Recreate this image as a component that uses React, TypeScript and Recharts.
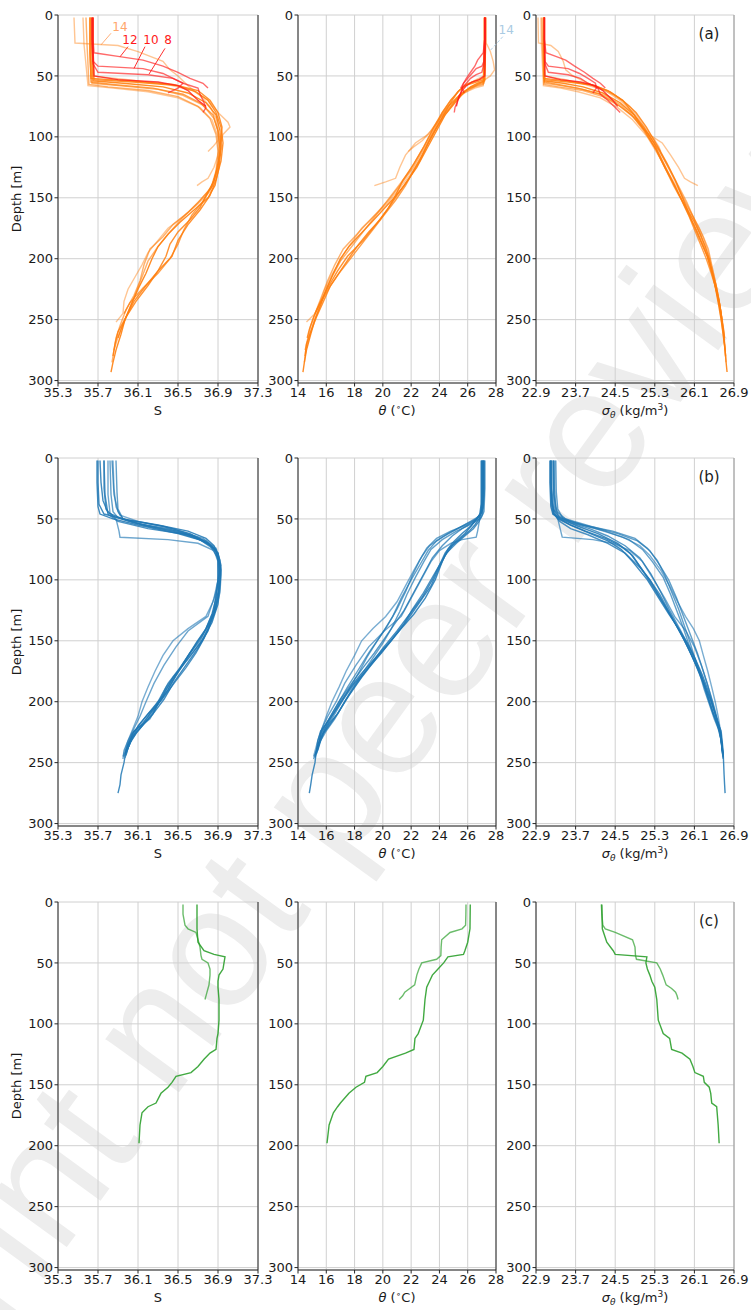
import React from "react";
import {
  ScatterChart,
  Scatter,
  XAxis,
  YAxis,
  CartesianGrid,
  ReferenceLine,
  ReferenceDot,
} from "recharts";

// ---------- axis ticks ----------
const depthTicks = [0, 50, 100, 150, 200, 250, 300];
const salTicks = [35.3, 35.7, 36.1, 36.5, 36.9, 37.3];
const thetaTicks = [14, 16, 18, 20, 22, 24, 26, 28];
const sigmaTicks = [22.9, 23.7, 24.5, 25.3, 26.1, 26.9];

// ---------- (a) orange profiles: depth [m], S, theta, sigma ----------
const orangeDepth = [
  [2, 30, 54, 56, 59, 64, 72, 82, 95, 110, 125, 140, 150, 160, 170, 180, 190, 200, 212, 225, 238, 250, 262, 275, 285, 293],
  [2, 30, 52, 54, 57, 62, 70, 80, 92, 108, 122, 136, 148, 158, 168, 178, 188, 198, 210, 222, 235, 248, 260, 270, 280],
  [2, 30, 56, 58, 61, 66, 74, 85, 98, 112, 126, 140, 152, 162, 172, 182, 192, 205, 218, 230, 242, 255, 265, 275],
  [2, 24, 58, 60, 63, 68, 76, 86, 100, 115, 130, 145, 155, 165, 175, 185, 195, 205, 215, 225, 235, 245, 252],
  [2, 30, 50, 53, 57, 62, 70, 80, 88, 92, 98, 105, 115, 125, 134, 137, 140],
  [2, 30, 53, 55, 58, 63, 70, 80, 92, 105, 120, 135, 148, 160, 172, 185, 198, 210, 222, 235, 248, 258, 265],
  [2, 30, 55, 57, 60, 65, 72, 82, 95, 110, 125, 140, 152, 164, 176, 188, 200, 212, 224, 236, 245],
  [2, 23, 25, 30, 38, 45, 50, 58, 66, 75, 85, 95, 103, 108, 112],
  [2, 24, 57, 59, 62, 67, 75, 85, 98, 112, 128, 142, 154, 166, 178, 190, 202, 215, 228, 240, 252, 264, 275, 285],
];
const orangeSal = [
  [35.64, 35.64, 35.65, 35.95, 36.35, 36.6, 36.78, 36.88, 36.92, 36.93, 36.91, 36.87, 36.8, 36.66, 36.52, 36.4, 36.3, 36.24, 36.18, 36.1, 36.03, 35.97, 35.93, 35.88, 35.85, 35.83],
  [35.62, 35.62, 35.63, 36.0, 36.45, 36.7, 36.82, 36.9, 36.94, 36.93, 36.9, 36.86, 36.78, 36.72, 36.62, 36.5, 36.42, 36.38, 36.3, 36.2, 36.08, 35.98, 35.9, 35.87, 35.85],
  [35.63, 35.63, 35.64, 35.9, 36.3, 36.55, 36.75, 36.86, 36.91, 36.92, 36.9, 36.85, 36.72, 36.6, 36.45, 36.35, 36.22, 36.16, 36.12, 36.06, 35.98, 35.92, 35.88, 35.86],
  [35.55, 35.56, 35.6, 35.85, 36.2, 36.5, 36.72, 36.84, 36.9, 36.91, 36.88, 36.82, 36.7, 36.56, 36.4, 36.3, 36.2, 36.14, 36.07, 36.0, 35.96, 35.95, 35.88],
  [35.62, 35.62, 35.63, 36.0, 36.4, 36.65, 36.8, 36.9, 37.0, 37.02, 36.95, 36.92, 36.9, 36.86, 36.8, 36.74, 36.69],
  [35.65, 35.65, 35.66, 36.05, 36.5, 36.68, 36.8, 36.88, 36.93, 36.95, 36.93, 36.88, 36.82, 36.72, 36.6, 36.5, 36.44, 36.3, 36.18, 36.06, 35.98, 35.93, 35.9],
  [35.62, 35.62, 35.63, 35.85, 36.25, 36.55, 36.72, 36.85, 36.9, 36.92, 36.9, 36.84, 36.76, 36.64, 36.56, 36.5, 36.42, 36.3, 36.15, 36.02, 35.96],
  [35.46, 35.47, 35.9, 36.1, 36.35, 36.42, 36.5, 36.6, 36.72, 36.82, 36.88, 36.9, 36.9, 36.85, 36.8],
  [35.58, 35.59, 35.61, 35.8, 36.2, 36.5, 36.7, 36.82, 36.88, 36.9, 36.88, 36.83, 36.7, 36.55, 36.42, 36.3, 36.2, 36.14, 36.08, 36.02, 35.96, 35.9, 35.86, 35.84],
];
const orangeTheta = [
  [27.25, 27.25, 27.2, 26.7, 26.2, 25.7, 25.1, 24.4, 23.8, 23.1, 22.4, 21.5, 20.8, 20.0, 19.2, 18.4, 17.6, 17.0, 16.5, 16.0, 15.6, 15.2, 14.9, 14.6, 14.45, 14.35],
  [27.2, 27.2, 27.15, 26.5, 25.9, 25.4, 24.8, 24.2, 23.6, 22.9, 22.2, 21.4, 20.9, 20.4, 19.8, 19.0, 18.3, 17.7, 17.0, 16.3, 15.8, 15.3, 14.9, 14.6, 14.5],
  [27.2, 27.2, 27.15, 26.6, 26.0, 25.4, 24.9, 24.2, 23.5, 22.8, 22.1, 21.2, 20.4, 19.6, 18.8, 18.0, 17.2, 16.6, 16.1, 15.7, 15.3, 14.9, 14.7, 14.5],
  [27.2, 27.2, 27.1, 26.5, 25.9, 25.2, 24.6, 24.0, 23.4, 22.8, 22.0, 21.0, 20.3, 19.4, 18.5, 17.9, 17.3, 16.8, 16.3, 15.9, 15.6, 15.2, 14.6],
  [27.2, 27.2, 27.15, 26.6, 26.0, 25.4, 24.8, 24.2, 23.9, 23.6, 23.2, 22.3, 21.6, 21.2, 20.9, 20.2, 19.4],
  [27.25, 27.25, 27.2, 26.6, 25.8, 25.3, 24.9, 24.4, 23.8, 23.2, 22.6, 21.8, 21.0, 20.3, 19.5, 18.6, 17.5, 16.8, 16.2, 15.6, 15.1, 14.8, 14.65],
  [27.2, 27.2, 27.15, 26.7, 26.1, 25.5, 25.0, 24.3, 23.7, 23.0, 22.3, 21.6, 20.9, 20.1, 19.3, 18.5, 17.7, 16.9, 16.2, 15.6, 15.2],
  [27.3, 27.3, 27.4, 27.6, 27.8, 27.9, 27.6, 26.6, 25.5, 24.6, 24.0, 23.4, 22.8, 22.2, 21.8],
  [27.15, 27.15, 27.1, 26.5, 25.8, 25.3, 24.6, 24.0, 23.4, 22.7, 21.9, 21.0, 20.2, 19.4, 18.6, 17.8, 17.0, 16.4, 15.9, 15.5, 15.1, 14.8, 14.55, 14.45],
];
const orangeSigma = [
  [23.06, 23.06, 23.07, 23.45, 23.85, 24.25, 24.6, 24.88, 25.1, 25.32, 25.5, 25.7, 25.82, 25.96, 26.1, 26.22, 26.32, 26.4, 26.47, 26.53, 26.59, 26.64, 26.68, 26.72, 26.74, 26.76],
  [23.05, 23.05, 23.06, 23.5, 24.0, 24.35, 24.65, 24.92, 25.13, 25.36, 25.55, 25.72, 25.84, 25.94, 26.04, 26.16, 26.26, 26.36, 26.45, 26.54, 26.6, 26.65, 26.69, 26.71, 26.73],
  [23.06, 23.06, 23.07, 23.4, 23.85, 24.3, 24.62, 24.9, 25.17, 25.4, 25.58, 25.76, 25.9, 26.03, 26.16, 26.28, 26.38, 26.45, 26.52, 26.58, 26.63, 26.67, 26.7, 26.72],
  [23.0, 23.01, 23.05, 23.4, 23.75, 24.2, 24.55, 24.85, 25.15, 25.37, 25.58, 25.8, 25.92, 26.06, 26.2, 26.3, 26.38, 26.44, 26.5, 26.55, 26.6, 26.64, 26.67],
  [23.06, 23.06, 23.07, 23.5, 23.9, 24.3, 24.6, 24.85, 24.98, 25.05, 25.18, 25.45, 25.62, 25.78, 25.9, 26.02, 26.17],
  [23.07, 23.07, 23.08, 23.55, 24.1, 24.4, 24.65, 24.85, 25.08, 25.28, 25.46, 25.64, 25.8, 25.94, 26.08, 26.22, 26.36, 26.44, 26.52, 26.6, 26.65, 26.69, 26.71],
  [23.06, 23.06, 23.07, 23.35, 23.75, 24.2, 24.5, 24.83, 25.08, 25.32, 25.5, 25.68, 25.84, 25.98, 26.1, 26.22, 26.34, 26.44, 26.53, 26.6, 26.64],
  [22.94, 22.95, 23.2, 23.35, 23.45, 23.5, 23.65, 24.05, 24.5, 24.8, 24.98, 25.15, 25.3, 25.38, 25.42],
  [23.02, 23.03, 23.06, 23.35, 23.85, 24.25, 24.6, 24.9, 25.17, 25.4, 25.62, 25.8, 25.95, 26.08, 26.2, 26.3, 26.4, 26.48, 26.55, 26.61, 26.65, 26.69, 26.72, 26.74],
];

// ---------- (a) red profiles (labelled 8, 10, 12) ----------
const redDepth = [
  [2, 20, 40, 47, 49, 52, 56, 60, 65, 70, 76, 80],
  [2, 20, 38, 42, 44, 48, 52, 56, 60, 64],
  [2, 20, 31, 34, 37, 42, 47, 52, 56, 60],
  [2, 25, 50, 53, 55, 58, 62, 66, 70, 75],
];
const redSal = [
  [35.64, 35.64, 35.65, 35.7, 36.2, 36.45, 36.55, 36.7, 36.72, 36.75, 36.78, 36.75],
  [35.64, 35.64, 35.65, 35.7, 36.15, 36.35, 36.45, 36.55, 36.5, 36.4],
  [35.65, 35.65, 35.66, 35.9, 36.15, 36.35, 36.5, 36.62, 36.75, 36.8],
  [35.65, 35.65, 35.66, 35.9, 36.3, 36.5, 36.6, 36.65, 36.7, 36.78],
];
const redTheta = [
  [27.2, 27.2, 27.15, 27.0, 26.6, 26.2, 25.9, 25.6, 25.5, 25.3, 25.1, 25.05],
  [27.2, 27.2, 27.15, 27.0, 26.6, 26.3, 26.0, 25.7, 25.6, 25.75],
  [27.2, 27.2, 27.1, 26.9, 26.7, 26.5, 26.2, 25.9, 25.7, 25.5],
  [27.25, 27.25, 27.2, 26.8, 26.3, 25.9, 25.6, 25.4, 25.3, 25.2],
];
const redSigma = [
  [23.07, 23.07, 23.08, 23.15, 23.55, 23.8, 23.95, 24.15, 24.2, 24.35, 24.5, 24.6],
  [23.07, 23.07, 23.08, 23.15, 23.55, 23.78, 23.95, 24.1, 24.12, 24.05],
  [23.07, 23.07, 23.1, 23.3, 23.5, 23.68, 23.88, 24.05, 24.2, 24.3],
  [23.07, 23.07, 23.08, 23.4, 23.8, 24.1, 24.25, 24.35, 24.45, 24.55],
];

// ---------- (b) blue profiles ----------
const blueDepth = [
  [2, 20, 40, 46, 50, 55, 62, 68, 75, 85, 100, 115, 128, 140, 152, 165, 178, 190, 200, 210, 218, 224, 232, 240, 250, 260, 268, 275],
  [2, 25, 42, 48, 53, 58, 64, 72, 82, 95, 110, 125, 140, 150, 160, 172, 185, 198, 210, 220, 228, 236, 245],
  [2, 30, 44, 50, 56, 62, 68, 76, 88, 100, 115, 130, 145, 160, 175, 188, 200, 212, 220, 226, 234, 240],
  [2, 30, 45, 50, 60, 65, 67, 70, 76, 85, 100, 115, 130, 142, 155, 170, 185, 200, 212, 222, 232, 240, 247],
  [2, 20, 35, 45, 50, 55, 60, 66, 72, 80, 92, 105, 120, 135, 150, 165, 180, 195, 208, 218, 226, 235, 243],
  [2, 25, 40, 47, 52, 58, 65, 72, 80, 92, 105, 118, 130, 140, 150, 162, 175, 188, 200, 212, 222, 232, 245],
  [2, 30, 46, 52, 58, 63, 70, 78, 90, 100, 112, 124, 136, 148, 160, 172, 185, 198, 210, 220, 230, 238, 244],
  [2, 28, 42, 50, 55, 60, 66, 74, 84, 96, 110, 124, 138, 150, 163, 176, 190, 202, 214, 222, 230, 238, 246],
  [2, 20, 38, 46, 51, 56, 62, 70, 78, 88, 100, 114, 128, 142, 156, 170, 184, 198, 210, 218, 226, 234, 242],
  [2, 30, 44, 49, 54, 60, 67, 75, 85, 98, 112, 126, 140, 152, 164, 176, 190, 202, 214, 224, 232, 240],
];
const blueSal = [
  [35.69, 35.69, 35.7, 35.72, 35.85, 36.1, 36.5, 36.75, 36.88, 36.9, 36.9, 36.88, 36.84, 36.78, 36.68, 36.58, 36.48, 36.4, 36.32, 36.22, 36.15, 36.06, 36.02, 35.98, 35.96, 35.93, 35.92, 35.9],
  [35.76, 35.76, 35.78, 35.85, 36.05, 36.4, 36.65, 36.82, 36.9, 36.91, 36.9, 36.86, 36.78, 36.72, 36.62, 36.52, 36.4, 36.32, 36.25, 36.14, 36.05, 36.0, 35.96],
  [35.84, 35.86, 35.9, 35.95, 36.2, 36.55, 36.78, 36.88, 36.92, 36.92, 36.9, 36.85, 36.75, 36.62, 36.5, 36.38, 36.3, 36.2, 36.12, 36.04, 36.0, 35.98],
  [35.8, 35.8, 35.82, 35.88, 35.91, 35.92, 36.4, 36.7, 36.86, 36.9, 36.9, 36.86, 36.8, 36.6, 36.48, 36.36, 36.26, 36.18, 36.12, 36.06, 36.0, 35.96, 35.95],
  [35.72, 35.73, 35.75, 35.8, 35.95, 36.3, 36.6, 36.78, 36.86, 36.9, 36.93, 36.92, 36.9, 36.84, 36.74, 36.6, 36.45, 36.35, 36.22, 36.12, 36.05, 36.0, 35.97],
  [35.85, 35.86, 35.88, 35.92, 36.1, 36.45, 36.7, 36.84, 36.9, 36.92, 36.9, 36.85, 36.78, 36.6, 36.45, 36.35, 36.27, 36.2, 36.14, 36.1, 36.05, 36.0, 35.95],
  [35.76, 35.77, 35.8, 35.9, 36.2, 36.6, 36.8, 36.9, 36.92, 36.9, 36.88, 36.86, 36.82, 36.76, 36.68, 36.58, 36.46, 36.34, 36.2, 36.1, 36.04, 36.0, 35.98],
  [35.88, 35.89, 35.9, 35.95, 36.15, 36.5, 36.75, 36.88, 36.92, 36.93, 36.92, 36.88, 36.8, 36.7, 36.6, 36.5, 36.38, 36.3, 36.22, 36.1, 36.04, 36.0, 35.97],
  [35.7, 35.7, 35.71, 35.76, 36.0, 36.35, 36.62, 36.8, 36.9, 36.93, 36.92, 36.9, 36.86, 36.8, 36.7, 36.58, 36.46, 36.36, 36.25, 36.16, 36.08, 36.02, 35.98],
  [35.82, 35.83, 35.85, 35.9, 36.1, 36.45, 36.72, 36.86, 36.91, 36.92, 36.9, 36.87, 36.8, 36.72, 36.6, 36.5, 36.4, 36.3, 36.2, 36.1, 36.03, 35.99],
];
const blueTheta = [
  [27.05, 27.05, 27.0, 26.9, 26.6, 26.3, 25.8, 25.2, 24.6, 24.2, 23.7, 23.0, 22.2, 21.3, 20.4, 19.4, 18.4, 17.6, 17.0, 16.5, 16.0, 15.6, 15.4, 15.3, 15.2, 15.0, 14.9, 14.8],
  [27.1, 27.1, 27.05, 26.8, 26.3, 25.6, 24.9, 24.2, 23.5, 22.9, 22.2, 21.5, 20.6, 20.0, 19.4, 18.6, 17.8, 17.0, 16.4, 15.9, 15.6, 15.4, 15.2],
  [27.15, 27.15, 27.05, 26.6, 25.6, 24.6, 23.8, 23.2, 22.6, 22.0, 21.3, 20.7, 19.9, 19.0, 18.2, 17.5, 16.9, 16.3, 15.9, 15.6, 15.5, 15.3],
  [27.0, 27.0, 26.95, 26.85, 26.7, 26.6, 25.6, 24.8, 24.0, 23.4, 22.7, 22.0, 21.3, 20.1, 19.0, 18.1, 17.3, 16.7, 16.1, 15.7, 15.5, 15.3, 15.1],
  [27.0, 27.0, 27.0, 26.95, 26.8, 26.5, 26.1, 25.5, 24.9, 24.4, 23.9, 23.4, 22.5, 21.6, 20.6, 19.5, 18.5, 17.6, 16.9, 16.3, 15.8, 15.5, 15.3],
  [27.2, 27.2, 27.1, 26.9, 26.2, 25.3, 24.2, 23.3, 22.8, 22.2, 21.6, 21.0, 20.2, 19.3, 18.5, 18.0, 17.4, 16.9, 16.4, 16.0, 15.7, 15.4, 15.1],
  [27.1, 27.1, 27.05, 26.8, 26.4, 25.9, 25.2, 24.5, 23.9, 23.4, 22.8, 22.1, 21.5, 20.7, 19.9, 19.0, 18.0, 17.2, 16.5, 16.0, 15.6, 15.4, 15.2],
  [27.1, 27.1, 27.05, 26.7, 25.9, 24.8, 23.8, 23.1, 22.6, 22.1, 21.6, 21.0, 20.3, 19.6, 18.9, 18.3, 17.6, 17.0, 16.4, 15.9, 15.6, 15.4, 15.2],
  [26.95, 26.95, 26.95, 26.85, 26.6, 26.2, 25.6, 24.9, 24.4, 24.0, 23.5, 22.8, 21.9, 21.0, 20.0, 19.1, 18.2, 17.4, 16.8, 16.2, 15.8, 15.5, 15.3],
  [27.2, 27.2, 27.15, 26.95, 26.3, 25.2, 24.2, 23.4, 22.9, 22.3, 21.7, 21.2, 20.6, 20.0, 19.3, 18.6, 17.8, 17.2, 16.6, 16.0, 15.6, 15.4],
];
const blueSigma = [
  [23.18, 23.18, 23.2, 23.24, 23.38, 23.6, 24.0, 24.35, 24.62, 24.85, 25.15, 25.38, 25.58, 25.78, 25.96, 26.12, 26.26, 26.37, 26.45, 26.52, 26.58, 26.64, 26.66, 26.68, 26.69, 26.7, 26.71, 26.72],
  [23.22, 23.22, 23.25, 23.35, 23.6, 23.98, 24.35, 24.7, 25.0, 25.22, 25.42, 25.6, 25.8, 25.93, 26.05, 26.18, 26.3, 26.42, 26.52, 26.6, 26.64, 26.66, 26.68],
  [23.25, 23.26, 23.32, 23.5, 24.0, 24.55, 24.95, 25.2, 25.4, 25.58, 25.74, 25.88, 26.02, 26.16, 26.28, 26.38, 26.47, 26.55, 26.6, 26.63, 26.65, 26.66],
  [23.25, 23.25, 23.28, 23.34, 23.4, 23.43, 24.05, 24.45, 24.8, 25.05, 25.28, 25.5, 25.7, 25.93, 26.1, 26.24, 26.36, 26.46, 26.54, 26.6, 26.64, 26.66, 26.68],
  [23.2, 23.2, 23.22, 23.26, 23.35, 23.6, 23.9, 24.3, 24.6, 24.85, 25.05, 25.25, 25.48, 25.7, 25.9, 26.08, 26.24, 26.37, 26.47, 26.56, 26.62, 26.65, 26.67],
  [23.28, 23.28, 23.3, 23.35, 23.6, 24.1, 24.65, 25.0, 25.2, 25.42, 25.6, 25.76, 25.92, 26.08, 26.2, 26.28, 26.37, 26.45, 26.52, 26.58, 26.62, 26.65, 26.68],
  [23.2, 23.21, 23.26, 23.38, 23.6, 23.95, 24.35, 24.7, 25.0, 25.2, 25.4, 25.56, 25.72, 25.88, 26.02, 26.16, 26.3, 26.42, 26.52, 26.59, 26.64, 26.66, 26.68],
  [23.3, 23.31, 23.34, 23.45, 23.85, 24.45, 24.9, 25.15, 25.35, 25.5, 25.64, 25.78, 25.9, 26.0, 26.1, 26.2, 26.3, 26.4, 26.5, 26.58, 26.63, 26.66, 26.68],
  [23.2, 23.2, 23.21, 23.25, 23.45, 23.75, 24.15, 24.55, 24.8, 24.98, 25.2, 25.4, 25.6, 25.8, 25.98, 26.13, 26.27, 26.38, 26.48, 26.56, 26.62, 26.65, 26.67],
  [23.26, 23.27, 23.3, 23.38, 23.72, 24.3, 24.78, 25.05, 25.25, 25.47, 25.62, 25.75, 25.88, 25.98, 26.1, 26.22, 26.33, 26.42, 26.52, 26.6, 26.64, 26.66],
];

// ---------- (c) green profiles ----------
const greenDepth = [
  [2, 22, 33, 40, 43, 45, 50, 55, 60, 65, 70, 80, 97, 108, 112, 121, 124, 129, 135, 140, 143, 148, 152, 157, 165, 168, 173, 183, 198],
  [2, 10, 19, 22, 25, 31, 37, 44, 47, 50, 55, 60, 68, 71, 74, 77, 80],
];
const greenSal = [
  [36.69, 36.69, 36.7, 36.76, 36.86, 36.97, 36.96, 36.95, 36.91, 36.9, 36.9, 36.91, 36.91, 36.9, 36.89, 36.88, 36.82, 36.76, 36.7, 36.63, 36.48, 36.44, 36.4, 36.33, 36.28, 36.2, 36.14, 36.12, 36.11],
  [36.55, 36.55, 36.57, 36.6, 36.68, 36.7, 36.72, 36.73, 36.74, 36.8, 36.82, 36.82, 36.81, 36.8, 36.79, 36.78, 36.77],
];
const greenTheta = [
  [26.18, 26.16, 26.0, 25.8, 25.7, 24.6, 24.3, 23.9, 23.5, 23.3, 23.1, 22.98, 22.86, 22.5, 22.27, 22.2, 21.6, 20.4, 20.0, 19.6, 18.8, 18.7, 18.1, 17.6, 17.0, 16.8, 16.5, 16.2, 16.05],
  [25.88, 25.87, 25.85, 25.6, 24.75, 24.16, 24.12, 24.1, 23.8, 22.75, 22.55, 22.4, 22.25, 21.9, 21.55, 21.4, 21.15],
];
const greenSigma = [
  [24.23, 24.24, 24.33, 24.46, 24.5, 25.14, 25.12, 25.15, 25.2, 25.24, 25.3, 25.34, 25.37, 25.47, 25.6, 25.64, 25.85, 26.01, 26.07, 26.11, 26.28, 26.3, 26.4, 26.43, 26.45, 26.55, 26.56, 26.58, 26.6],
  [24.22, 24.23, 24.25, 24.3, 24.5, 24.85, 24.9, 24.91, 24.93, 25.34, 25.41, 25.46, 25.53, 25.64, 25.72, 25.75, 25.77],
];

// line transparency per profile (style only)
const orangeAlpha = [0.9, 0.85, 0.6, 0.45, 0.45, 0.85, 0.75, 0.45, 0.6];
const redAlpha = [0.65, 0.65, 0.65, 0.8];
const blueAlpha = [0.85, 0.75, 0.7, 0.65, 0.85, 0.6, 0.8, 0.7, 0.85, 0.7];
const greenAlpha = [0.9, 0.7];

const FONT = "DejaVu Sans, sans-serif";
const AXIS = "#262626";
const GRID = "#d0d0d0";
const PLOT_H = 368;
const Y_W = 50;
const TOP_PAD = 10;
const X_H = 30;
const RIGHT_PAD = 30;

type Pt = { v: number; d: number };
type Trace = { id: string; pts: Pt[]; color: string; alpha: number };

function traces(depths: number[][], values: number[][], color: string, alpha: number[], prefix: string): Trace[] {
  return depths.map((dep, i) => ({
    id: prefix + i,
    pts: dep.map((d, j) => ({ d, v: values[i][j] })).filter((p) => p.v !== undefined),
    color,
    alpha: alpha[i] ?? 0.8,
  }));
}

const noDot = () => <g />;

const COLS = [
  { left: 58, width: 200, domain: [35.3, 37.3], ticks: salTicks, spine: AXIS },
  { left: 298, width: 198, domain: [14, 28], ticks: thetaTicks, spine: AXIS },
  { left: 536, width: 198, domain: [22.9, 26.9], ticks: sigmaTicks, spine: "#9a9a9a" },
];

function Panel({ col, top, lines, extras }: { col: number; top: number; lines: Trace[]; extras?: React.ReactNode[] }) {
  const c = COLS[col];
  const tickStyle = { fontSize: 13, fill: "#1a1a1a", fontFamily: FONT };
  return (
    <div style={{ position: "absolute", left: c.left - Y_W, top: top - TOP_PAD }}>
      <ScatterChart
        width={Y_W + c.width + RIGHT_PAD}
        height={TOP_PAD + PLOT_H + X_H}
        margin={{ top: TOP_PAD, right: RIGHT_PAD, bottom: 0, left: 0 }}
      >
        <CartesianGrid stroke={GRID} strokeWidth={1} />
        <XAxis
          type="number"
          dataKey="v"
          domain={c.domain}
          ticks={c.ticks}
          interval={0}
          allowDataOverflow
          height={X_H}
          tickSize={3.5}
          tickMargin={1}
          stroke={AXIS}
          tick={tickStyle}
        />
        <YAxis
          type="number"
          dataKey="d"
          domain={[0, 302]}
          reversed
          ticks={depthTicks}
          interval={0}
          allowDataOverflow
          width={Y_W}
          tickSize={3.5}
          tickMargin={1.5}
          stroke={AXIS}
          tick={tickStyle}
        />
        <ReferenceLine x={c.domain[1]} stroke={c.spine} strokeWidth={1} ifOverflow="visible" />
        {lines.map((t) => (
          <Scatter
            key={t.id}
            data={t.pts}
            fill={t.color}
            line={{ stroke: t.color, strokeWidth: 1.4, strokeOpacity: t.alpha }}
            shape={noDot}
            legendType="none"
            isAnimationActive={false}
          />
        ))}
        {extras}
      </ScatterChart>
    </div>
  );
}

function note(key: string, x: number, y: number, text: string, color: string) {
  return (
    <ReferenceDot
      key={key}
      x={x}
      y={y}
      r={0}
      fill="none"
      stroke="none"
      ifOverflow="visible"
      label={{ value: text, fill: color, fontSize: 12, fontFamily: FONT, position: "center" }}
    />
  );
}

function leader(key: string, x1: number, y1: number, x2: number, y2: number, color: string, dash?: string) {
  return (
    <ReferenceLine
      key={key}
      segment={[{ x: x1, y: y1 }, { x: x2, y: y2 }]}
      stroke={color}
      strokeWidth={0.9}
      strokeDasharray={dash}
      ifOverflow="visible"
    />
  );
}

const ORANGE = "#ff7f0e";
const RED = "#ff1a1a";
const BLUE = "#1f77b4";
const GREEN = "#2ca02c";

const rowA = {
  sal: [...traces(orangeDepth, orangeSal, ORANGE, orangeAlpha, "os"), ...traces(redDepth, redSal, RED, redAlpha, "rs")],
  theta: [...traces(orangeDepth, orangeTheta, ORANGE, orangeAlpha, "ot"), ...traces(redDepth, redTheta, RED, redAlpha, "rt")],
  sigma: [...traces(orangeDepth, orangeSigma, ORANGE, orangeAlpha, "og"), ...traces(redDepth, redSigma, RED, redAlpha, "rg")],
};
const rowB = {
  sal: traces(blueDepth, blueSal, BLUE, blueAlpha, "bs"),
  theta: traces(blueDepth, blueTheta, BLUE, blueAlpha, "bt"),
  sigma: traces(blueDepth, blueSigma, BLUE, blueAlpha, "bg"),
};
const rowC = {
  sal: traces(greenDepth, greenSal, GREEN, greenAlpha, "gs"),
  theta: traces(greenDepth, greenTheta, GREEN, greenAlpha, "gt"),
  sigma: traces(greenDepth, greenSigma, GREEN, greenAlpha, "gg"),
};

const ROWS = [
  { top: 15, data: rowA, tag: "(a)" },
  { top: 458, data: rowB, tag: "(b)" },
  { top: 902, data: rowC, tag: "(c)" },
];

const salNotes = [
  leader("l14", 35.83, 15, 35.73, 24.5, "#ffa66b"),
  leader("l12", 36.0, 26, 35.92, 34.3, RED),
  leader("l10", 36.17, 26, 36.06, 43.8, RED),
  leader("l8", 36.37, 27.4, 36.21, 48.5, RED),
  note("n14", 35.92, 9.9, "14", "#ffa66b"),
  note("n12", 36.02, 20.5, "12", RED),
  note("n10", 36.23, 20.5, "10", RED),
  note("n8", 36.4, 20.5, "8", RED),
];
const thetaNotes = [
  leader("lb14", 28.48, 17.8, 27.58, 29.3, "#a9cbe3", "3 2"),
  note("nb14", 28.72, 12.3, "14", "#a9cbe3"),
];

const labelStyle: React.CSSProperties = {
  position: "absolute",
  width: 160,
  height: 16,
  lineHeight: "16px",
  textAlign: "center",
  fontFamily: FONT,
  fontSize: 13,
  color: "#1a1a1a",
  whiteSpace: "nowrap",
};
const sup: React.CSSProperties = { fontSize: 9, position: "relative", top: -5 };
const sub: React.CSSProperties = { fontSize: 9, position: "relative", top: 3, fontStyle: "italic" };

function xLabel(col: number) {
  if (col === 0) return "S";
  if (col === 1)
    return (
      <>
        <i>θ</i> (<span style={sup}>∘</span>C)
      </>
    );
  return (
    <>
      <i>σ</i>
      <span style={sub}>θ</span> (kg/m<span style={sup}>3</span>)
    </>
  );
}

export default function App() {
  return (
    <div
      style={{
        position: "absolute",
        left: 0,
        top: 0,
        width: 751,
        height: 1310,
        overflow: "hidden",
        background: "#fff",
      }}
    >
      <svg width={751} height={1310} style={{ position: "absolute", left: 0, top: 0 }}>
        <text
          x={-210}
          y={1628}
          transform="rotate(-54 -210 1628)"
          fontSize={172}
          fill="#ededed"
          fontFamily="Liberation Sans, Arial, sans-serif"
        >
          Preprint not peer reviewed
        </text>
      </svg>

      {ROWS.map((r, ri) => (
        <React.Fragment key={ri}>
          <Panel col={0} top={r.top} lines={r.data.sal} extras={ri === 0 ? salNotes : undefined} />
          <Panel col={1} top={r.top} lines={r.data.theta} extras={ri === 0 ? thetaNotes : undefined} />
          <Panel col={2} top={r.top} lines={r.data.sigma} />
          {COLS.map((c, ci) => (
            <div key={ci} style={{ ...labelStyle, left: c.left + c.width / 2 - 80, top: r.top + PLOT_H + 20 }}>
              {xLabel(ci)}
            </div>
          ))}
          <div
            style={{
              ...labelStyle,
              left: 17 - 80,
              top: r.top + PLOT_H / 2 - 8,
              transform: "rotate(-90deg)",
            }}
          >
            Depth [m]
          </div>
          <div style={{ ...labelStyle, width: 40, left: 689, top: r.top + 11, fontSize: 15 }}>{r.tag}</div>
        </React.Fragment>
      ))}
    </div>
  );
}
